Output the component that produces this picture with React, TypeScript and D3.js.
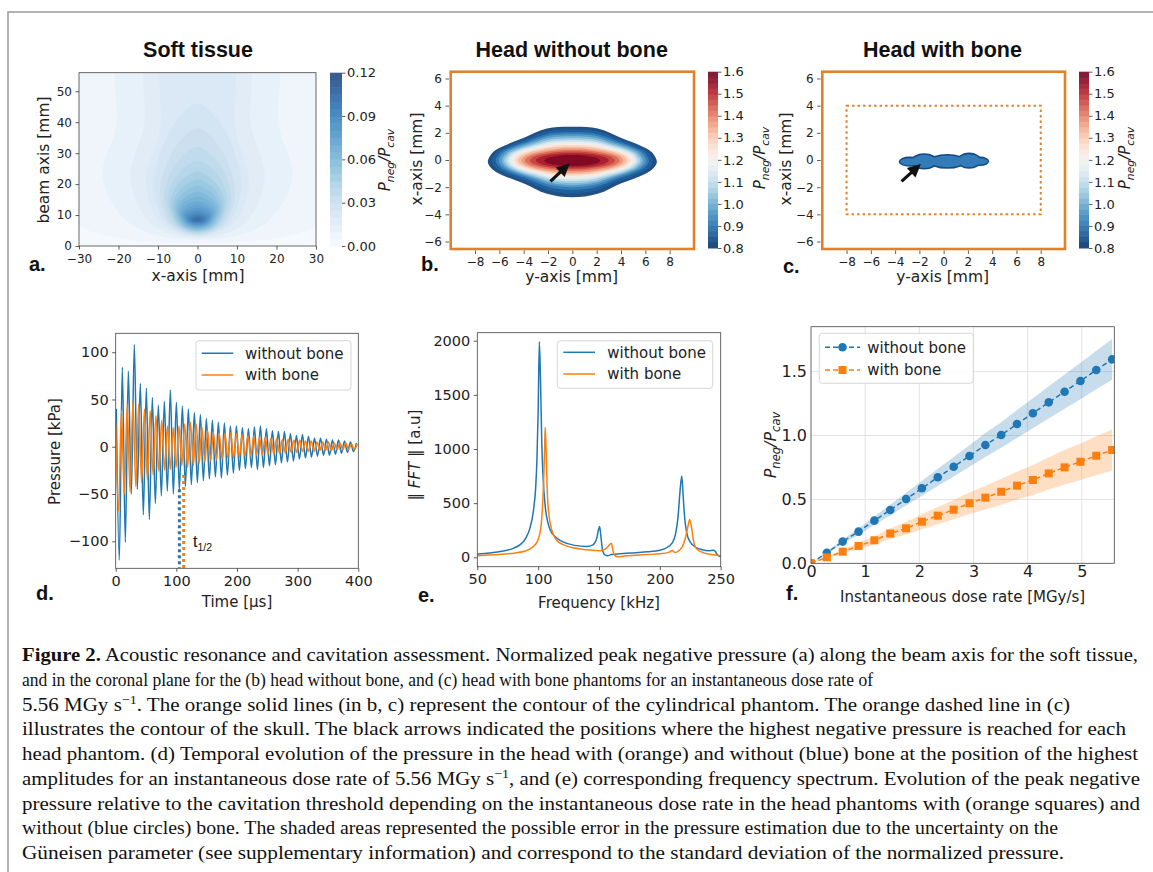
import React, { useEffect, useRef } from 'react'
import * as d3 from 'd3'

const sans = "'DejaVu Sans', sans-serif"
const arial = "'Liberation Sans', Arial, sans-serif"
const serif = "'Liberation Serif', 'Times New Roman', serif"
const ink = '#222'
const blue = '#1f77b4'
const orange = '#ff7f0e'
const frameOrange = '#e2812a'

// (a) soft tissue, nested contour shapes (mm)
const aLevels = [0.005, 0.01, 0.015, 0.02, 0.025, 0.03, 0.035, 0.04, 0.045, 0.05, 0.055, 0.06, 0.065, 0.07, 0.075, 0.08, 0.085, 0.09, 0.095, 0.1, 0.105]
const aBottom = [1, 2, 2.5, 3, 3.3, 3.6, 3.9, 4.2, 4.5, 4.8, 5.1, 5.4, 5.7, 6.0, 6.3, 6.6, 6.9, 7.2, 7.5, 7.8, 8.0]
const aTop = [70, 70, 70, 70, 46, 38, 32, 27.5, 24, 21.5, 19.5, 17.5, 16, 14.5, 13.3, 12.3, 11.4, 10.7, 10.1, 9.6, 9.2]
const aWidth = [40, 24, 17, 13, 11, 9.5, 8.5, 7.6, 6.9, 6.3, 5.7, 5.2, 4.7, 4.2, 3.8, 3.4, 3.0, 2.5, 2.0, 1.5, 1.0]
const aWidthAt = [18, 22, 22, 20, 19, 17, 16, 15, 14, 13, 12.5, 12, 11.5, 11, 10.5, 10, 9.6, 9.2, 8.9, 8.6, 8.5]
const aTopWidth = [40, 19, 12, 8]
const aCbarTicks = [0, 0.03, 0.06, 0.09, 0.12]

// (b) head without bone, nested contour shapes (mm)
const bLevels = [0.8, 0.85, 0.9, 0.95, 1.0, 1.05, 1.1, 1.15, 1.2, 1.25, 1.3, 1.35, 1.4, 1.45, 1.5, 1.55]
const bHalfWidth = [6.95, 6.6, 6.3, 6.05, 5.8, 5.6, 5.4, 5.2, 5.0, 4.75, 4.5, 4.2, 3.9, 3.5, 3.0, 2.3]
const bTop = [2.45, 2.25, 2.05, 1.9, 1.75, 1.6, 1.47, 1.35, 1.22, 1.1, 0.98, 0.86, 0.74, 0.62, 0.5, 0.36]
const bBottom = [-2.75, -2.45, -2.2, -2.0, -1.85, -1.7, -1.55, -1.42, -1.3, -1.17, -1.05, -0.93, -0.8, -0.68, -0.56, -0.44]
const bArrow = [[-1.8, -1.57], [-0.22, -0.25]]
const rdTicks = [0.8, 0.9, 1.0, 1.1, 1.2, 1.3, 1.4, 1.5, 1.6]

// (c) head with bone, lobes of the small region (mm)
const cLobeX = [-2.8, -1.6, 0.3, 2.1, 3.0]
const cLobeHalfW = [0.9, 1.1, 1.5, 1.0, 0.75]
const cLobeTop = [0.25, 0.5, 0.45, 0.55, 0.25]
const cLobeBottom = [-0.5, -0.7, -0.65, -0.65, -0.45]
const cLobeValue = 0.9
const cSkull = [[-8, -4], [8, 4]]
const cArrow = [[-3.47, -1.57], [-1.88, -0.3]]

// (d) pressure, peak values per oscillation cycle (kPa)
const dBluePeriod = 9.9
const dBlueMax = [40, 84, 80, 108, 67, 62, 52, 44, 48, 60, 47, 43, 40, 36, 34, 30, 28, 26, 25, 22, 22, 20, 19, 21, 22, 19, 17, 16, 16, 14, 12, 13, 11, 9, 9, 8, 7, 7, 6, 5, 4]
const dBlueMin = [-120, -101, -50, -45, -72, -77, -60, -52, -47, -50, -46, -42, -40, -38, -36, -34, -32, -33, -30, -28, -25, -23, -22, -24, -22, -20, -19, -17, -16, -15, -13, -12, -11, -10, -9, -9, -8, -7, -6, -5]
const dOrangePeriod = 9.48
const dOrangeMax = [25, 38, 45, 48, 45, 40, 38, 33, 28, 22, 20, 22, 24, 26, 24, 21, 17, 15, 14, 14, 15, 14, 13, 12, 11, 10, 10, 9, 9, 8, 8, 7, 7, 6, 6, 5, 5, 5, 4, 4, 4, 3, 3]
const dOrangeMin = [-68, -50, -48, -42, -38, -35, -30, -26, -25, -24, -22, -20, -22, -20, -18, -16, -15, -14, -13, -12, -12, -11, -10, -10, -9, -9, -8, -8, -7, -7, -6, -6, -5, -5, -5, -4, -4, -4, -3, -3, -3, -3]
const dHalfTime = [105, 112]
const dHalfStart = [-45, -30]

// (e) spectrum
const eBlueFreq = [50, 60, 70, 80, 85, 90, 93, 96, 98, 99, 100, 101, 102, 103, 104, 106, 108, 110, 115, 120, 130, 140, 145, 148, 149.5, 150.5, 151.5, 153, 155, 157, 160, 170, 180, 190, 200, 205, 210, 213, 215, 216.5, 218, 219, 220, 222, 225, 230, 235, 240, 244, 245.5, 247, 250]
const eBlueAmp = [30, 40, 55, 85, 115, 180, 260, 420, 650, 900, 1350, 1990, 1600, 1050, 750, 450, 320, 250, 180, 145, 110, 100, 115, 170, 250, 285, 200, 60, 20, 15, 25, 35, 42, 50, 65, 85, 130, 220, 380, 600, 750, 600, 420, 230, 140, 90, 70, 60, 65, 55, 25, 5]
const eOrangeFreq = [50, 60, 70, 80, 90, 95, 99, 101, 102.5, 103.5, 104.5, 105.3, 105.8, 106.5, 107.5, 109, 111, 115, 120, 130, 140, 150, 155, 157, 159, 160, 161, 162, 164, 166, 170, 180, 190, 200, 207, 209, 210, 211.5, 213, 216, 219, 221, 223, 224.5, 226, 227.5, 230, 235, 240, 245, 250]
const eOrangeAmp = [15, 20, 28, 38, 60, 90, 140, 200, 300, 450, 700, 1000, 1200, 1000, 600, 380, 260, 160, 120, 85, 70, 60, 75, 95, 120, 130, 90, 40, 10, 5, 10, 18, 25, 32, 45, 55, 65, 50, 45, 65, 110, 180, 280, 350, 280, 160, 80, 45, 30, 20, 15]

// (f) peak negative pressure vs dose rate
const fDose = [0, 0.293, 0.585, 0.878, 1.17, 1.463, 1.756, 2.048, 2.341, 2.634, 2.926, 3.219, 3.512, 3.804, 4.097, 4.39, 4.682, 4.975, 5.267, 5.56]
const fBlue = [0, 0.083, 0.17, 0.248, 0.334, 0.417, 0.503, 0.587, 0.673, 0.756, 0.84, 0.926, 1.004, 1.09, 1.174, 1.26, 1.343, 1.427, 1.513, 1.596]
const fBlueLow = [0, 0.075, 0.153, 0.223, 0.3, 0.375, 0.453, 0.528, 0.606, 0.68, 0.756, 0.833, 0.904, 0.981, 1.057, 1.134, 1.209, 1.284, 1.362, 1.436]
const fBlueHigh = [0, 0.091, 0.187, 0.273, 0.367, 0.459, 0.553, 0.646, 0.74, 0.832, 0.924, 1.019, 1.104, 1.199, 1.291, 1.386, 1.477, 1.57, 1.664, 1.756]
const fOrange = [0, 0.047, 0.091, 0.136, 0.18, 0.233, 0.274, 0.326, 0.373, 0.42, 0.47, 0.514, 0.56, 0.608, 0.652, 0.704, 0.751, 0.795, 0.842, 0.887]
const fOrangeLow = [0, 0.039, 0.075, 0.112, 0.148, 0.191, 0.225, 0.267, 0.306, 0.344, 0.385, 0.421, 0.459, 0.499, 0.535, 0.577, 0.616, 0.652, 0.69, 0.727]
const fOrangeHigh = [0, 0.055, 0.107, 0.16, 0.212, 0.275, 0.323, 0.385, 0.44, 0.496, 0.555, 0.607, 0.661, 0.717, 0.769, 0.831, 0.886, 0.938, 0.994, 1.047]

const legendNames = ['without bone', 'with bone']

const captionLines: [string, string][][] = [
  [['Figure 2.', 'b'], [' Acoustic resonance and cavitation assessment. Normalized peak negative pressure (a) along the beam axis for the soft tissue,', '']],
  [['and in the coronal plane for the (b) head without bone, and (c) head with bone phantoms for an instantaneous dose rate of', '']],
  [['5.56 MGy s', ''], ['\u22121', 'sup'], ['. The orange solid lines (in b, c) represent the contour of the cylindrical phantom. The orange dashed line in (c)', '']],
  [['illustrates the contour of the skull. The black arrows indicated the positions where the highest negative pressure is reached for each', '']],
  [['head phantom. (d) Temporal evolution of the pressure in the head with (orange) and without (blue) bone at the position of the highest', '']],
  [['amplitudes for an instantaneous dose rate of 5.56 MGy s', ''], ['\u22121', 'sup'], [', and (e) corresponding frequency spectrum. Evolution of the peak negative', '']],
  [['pressure relative to the cavitation threshold depending on the instantaneous dose rate in the head phantoms with (orange squares) and', '']],
  [['without (blue circles) bone. The shaded areas represented the possible error in the pressure estimation due to the uncertainty on the', '']],
  [['G\u00fcneisen parameter (see supplementary information) and correspond to the standard deviation of the normalized pressure.', '']],
]
const captionRight = [1138, 873, 1070, 1126, 1138, 1140, 1140, 1058, 1064]

const aColor = (v: number) => d3.interpolateBlues(Math.min(1, v / 0.12))
const rdColor = (v: number) => d3.interpolateRdBu(1 - Math.max(0, Math.min(1, (v - 0.8) / 0.8)))

function styleAxis(s: any, size: number) {
  s.select('.domain').remove()
  s.selectAll('text').attr('font-family', sans).attr('font-size', size).attr('fill', ink)
  s.selectAll('line').attr('stroke', '#333').attr('stroke-width', 0.8)
}

function axisB(g: any, scale: any, y: number, ticks: number[], size: number, fmt?: any, tick = 3.5, pad = 3.5) {
  const ax = d3.axisBottom(scale).tickValues(ticks).tickSizeOuter(0).tickSize(tick).tickPadding(pad)
  if (fmt) ax.tickFormat(fmt)
  styleAxis(g.append('g').attr('transform', `translate(0,${y})`).call(ax), size)
}
function axisL(g: any, scale: any, x: number, ticks: number[], size: number, fmt?: any, tick = 3.5, pad = 3.5) {
  const ax = d3.axisLeft(scale).tickValues(ticks).tickSizeOuter(0).tickSize(tick).tickPadding(pad)
  if (fmt) ax.tickFormat(fmt)
  styleAxis(g.append('g').attr('transform', `translate(${x},0)`).call(ax), size)
}
function axisR(g: any, scale: any, x: number, ticks: number[], size: number, fmt?: any) {
  const ax = d3.axisRight(scale).tickValues(ticks).tickSizeOuter(0).tickSize(3.5).tickPadding(1.5)
  if (fmt) ax.tickFormat(fmt)
  styleAxis(g.append('g').attr('transform', `translate(${x},0)`).call(ax), size)
}

function label(g: any, x: number, y: number, txt: string, size: number, rotate = false, family = sans) {
  const t = g.append('text').attr('x', x).attr('y', y).attr('text-anchor', 'middle')
    .attr('font-family', family).attr('font-size', size).attr('fill', ink).text(txt)
  if (rotate) t.attr('transform', `rotate(-90,${x},${y})`)
  return t
}

function pLabel(g: any, x: number, y: number, size: number) {
  const t = g.append('text').attr('text-anchor', 'middle').attr('font-family', sans)
    .attr('font-size', size).attr('font-style', 'italic').attr('fill', ink)
    .attr('transform', `translate(${x},${y}) rotate(-90)`)
  const sub = size * 0.72
  t.append('tspan').text('P')
  t.append('tspan').attr('font-size', sub).attr('dy', size * 0.25).text('neg')
  t.append('tspan').attr('dy', -size * 0.25).text('/P')
  t.append('tspan').attr('font-size', sub).attr('dy', size * 0.25).text('cav')
}

function panelLetter(g: any, x: number, y: number, txt: string) {
  g.append('text').attr('x', x).attr('y', y).attr('font-family', arial).attr('font-weight', 'bold')
    .attr('font-size', 20).attr('fill', '#111').text(txt)
}

function title(g: any, x: number, txt: string) {
  g.append('text').attr('x', x).attr('y', 56.5).attr('text-anchor', 'middle').attr('font-family', arial)
    .attr('font-weight', 'bold').attr('font-size', 21.5).attr('fill', '#111').text(txt)
}

function arrow(g: any, x: any, y: any, pts: number[][]) {
  const x1 = x(pts[0][0]), y1 = y(pts[0][1]), x2 = x(pts[1][0]), y2 = y(pts[1][1])
  const ang = Math.atan2(y2 - y1, x2 - x1)
  const hl = 13, hw = 6.5
  const bx = x2 - hl * Math.cos(ang), by = y2 - hl * Math.sin(ang)
  g.append('line').attr('x1', x1).attr('y1', y1).attr('x2', bx + 2 * Math.cos(ang)).attr('y2', by + 2 * Math.sin(ang))
    .attr('stroke', '#111').attr('stroke-width', 3.2)
  const px = -Math.sin(ang) * hw, py = Math.cos(ang) * hw
  g.append('path').attr('d', `M${x2},${y2}L${bx + px},${by + py}L${bx - px},${by - py}Z`).attr('fill', '#111')
}

function rdColorbar(g: any, x0: number, x1: number, y0: number, y1: number) {
  const s = d3.scaleLinear().domain([0.8, 1.6]).range([y1, y0])
  const edges = d3.range(0, 33).map(i => 0.8 + i * 0.025)
  g.selectAll(null).data(edges.slice(0, -1)).join('rect')
    .attr('x', x0).attr('width', x1 - x0)
    .attr('y', (d: number) => s(d + 0.025)).attr('height', (d: number) => s(d) - s(d + 0.025) + 0.5)
    .attr('fill', (d: number) => rdColor(d + 0.0125)).attr('opacity', 0.9)
  axisR(g, s, x1, rdTicks, 13, d3.format('.1f'))
}

function timeSeries(maxs: number[], mins: number[], period: number, t0: number) {
  const pts: [number, number][] = []
  maxs.forEach((m, k) => {
    pts.push([t0 + k * period, m])
    if (mins[k] !== undefined) pts.push([t0 + k * period + period / 2, mins[k]])
  })
  return pts.filter(p => p[0] <= 400)
}

function legendBox(g: any, x0: number, y0: number, w: number, h: number) {
  g.append('rect').attr('x', x0).attr('y', y0).attr('width', w).attr('height', h).attr('rx', 3)
    .attr('fill', 'white').attr('fill-opacity', 0.85).attr('stroke', '#d6d6d6').attr('stroke-width', 1)
}

const App = () => {
  const ref = useRef<SVGSVGElement>(null)

  useEffect(() => {
    const svg = d3.select(ref.current)
    svg.selectAll('*').remove()
    const defs = svg.append('defs')
    const clip = (id: string, x0: number, y0: number, x1: number, y1: number) => {
      defs.append('clipPath').attr('id', id).append('rect').attr('x', x0).attr('y', y0).attr('width', x1 - x0).attr('height', y1 - y0)
      return `url(#${id})`
    }

    // page frame
    svg.append('path').attr('d', 'M8,872V12H1153').attr('fill', 'none').attr('stroke', '#999').attr('stroke-width', 1.5)

    // ---------- (a) ----------
    const ga = svg.append('g')
    const aX = d3.scaleLinear().domain([-30, 30]).range([79, 316])
    const aY = d3.scaleLinear().domain([0, 56]).range([246, 72.7])
    const aLine = d3.line<number[]>().x(d => aX(d[0])).y(d => aY(d[1])).curve(d3.curveCatmullRomClosed)
    const aPlot = ga.append('g').attr('clip-path', clip('clipA', 79, 72.7, 316, 246)).attr('opacity', 0.8)
    aPlot.append('rect').attr('x', 79).attr('y', 72.7).attr('width', 237).attr('height', 173.3).attr('fill', aColor(0.0025))
    aLevels.forEach((lv, i) => {
      const yb = aBottom[i], yw = aWidthAt[i], w = aWidth[i], yt = aTop[i]
      let right: number[][]
      if (yt > 56) {
        const tw = aTopWidth[i]
        right = [[0.7 * w, yb + 0.25 * (yw - yb)], [w, yw], [tw + 0.3 * (w - tw), (yw + 56) / 2], [tw, 62]]
      } else {
        right = [[0.7 * w, yb + 0.25 * (yw - yb)], [w, yw], [0.75 * w, yw + 0.55 * (yt - yw)], [0.35 * w, yw + 0.88 * (yt - yw)], [0, yt]]
      }
      const left = right.filter(p => p[0] !== 0).reverse().map(p => [-p[0], p[1]])
      const pts = [[0, yb], ...right, ...left]
      const next = i + 1 < aLevels.length ? aLevels[i + 1] : lv + 0.005
      aPlot.append('path').attr('d', aLine(pts)).attr('fill', aColor((lv + next) / 2))
    })
    ga.append('rect').attr('x', 79).attr('y', 72.7).attr('width', 237).attr('height', 173.3).attr('fill', 'none').attr('stroke', '#444').attr('stroke-width', 0.8)
    axisL(ga, aY, 79, [0, 10, 20, 30, 40, 50], 12)
    axisB(ga, aX, 246, [-30, -20, -10, 0, 10, 20, 30], 12, undefined, 3.5, 5)
    // colorbar
    const aC = d3.scaleLinear().domain([0, 0.12]).range([246, 72.7])
    const aEdges = d3.range(0, 24).map(i => i * 0.005)
    ga.append('g').attr('opacity', 0.8).selectAll('rect').data(aEdges).join('rect')
      .attr('x', 330).attr('width', 12).attr('y', d => aC(d + 0.005)).attr('height', d => aC(d) - aC(d + 0.005) + 0.5)
      .attr('fill', d => aColor(d + 0.0025))
    axisR(ga, aC, 342, aCbarTicks, 13, d3.format('.2f'))
    pLabel(ga, 390, 160, 15)
    title(ga, 198, 'Soft tissue')
    label(ga, 198, 281, 'x-axis [mm]', 15.5)
    label(ga, 48.5, 160, 'beam axis [mm]', 15.5, true)
    panelLetter(ga, 29, 271, 'a.')

    // ---------- (b) ----------
    const gb = svg.append('g')
    const bX = d3.scaleLinear().domain([-10, 10]).range([450.7, 694])
    const bY = d3.scaleLinear().domain([-6.55, 6.5]).range([249, 71.7])
    const bLine = d3.line<number[]>().x(d => bX(d[0])).y(d => bY(d[1])).curve(d3.curveCatmullRomClosed)
    const profX = [0.3, 0.58, 0.8, 0.94]
    const lensTop = [0.95, 0.68, 0.47, 0.28]
    const lensBot = [0.9, 0.6, 0.4, 0.22]
    const ellip = [0.954, 0.815, 0.6, 0.34]
    const bPlot = gb.append('g').attr('clip-path', clip('clipB', 450.7, 71.7, 694, 249))
    bPlot.append('rect').attr('x', 450.7).attr('y', 71.7).attr('width', 243.3).attr('height', 177.3).attr('fill', '#fff')
    bLevels.forEach((lv, i) => {
      const f = i / (bLevels.length - 1)
      const hw = bHalfWidth[i], top = bTop[i], bot = bBottom[i], mid = (top + bot) / 2
      const up = profX.map((px, j) => [hw * px, mid + (top - mid) * (lensTop[j] * (1 - f) + ellip[j] * f)])
      const dn = profX.map((px, j) => [hw * px, mid - (mid - bot) * (lensBot[j] * (1 - f) + ellip[j] * f)])
      const pts = [[0, top], ...up, [hw, mid], ...dn.slice().reverse(), [0, bot],
        ...dn.map(p => [-p[0], p[1]]), [-hw, mid], ...up.slice().reverse().map(p => [-p[0], p[1]])]
      bPlot.append('path').attr('d', bLine(pts)).attr('fill', rdColor(lv + 0.025)).attr('opacity', 0.92)
    })
    arrow(bPlot, bX, bY, bArrow)
    gb.append('rect').attr('x', 450.7).attr('y', 71.7).attr('width', 243.3).attr('height', 177.3).attr('fill', 'none').attr('stroke', frameOrange).attr('stroke-width', 2.6)
    axisL(gb, bY, 449, [-6, -4, -2, 0, 2, 4, 6], 12)
    axisB(gb, bX, 250.5, [-8, -6, -4, -2, 0, 2, 4, 6, 8], 12)
    rdColorbar(gb, 708, 718, 71.7, 248)
    pLabel(gb, 765, 158, 15)
    title(gb, 571.7, 'Head without bone')
    label(gb, 571.7, 282, 'y-axis [mm]', 15.5)
    label(gb, 422, 159, 'x-axis [mm]', 15.5, true)
    panelLetter(gb, 421, 271, 'b.')

    // ---------- (c) ----------
    const gc = svg.append('g')
    const cX = d3.scaleLinear().domain([-10, 10]).range([822.3, 1065])
    const cY = d3.scaleLinear().domain([-6.55, 6.5]).range([249, 71.7])
    const cPlot = gc.append('g').attr('clip-path', clip('clipC', 822.3, 71.7, 1065, 249))
    cPlot.append('rect').attr('x', 822.3).attr('y', 71.7).attr('width', 242.7).attr('height', 177.3).attr('fill', '#fff')
    const lobes = (shrink: number, v: number) => cLobeX.forEach((cx, i) => {
      const cy = (cLobeTop[i] + cLobeBottom[i]) / 2
      const ry = (cLobeTop[i] - cLobeBottom[i]) / 2 - shrink
      const rx = cLobeHalfW[i] - shrink
      cPlot.append('ellipse').attr('cx', cX(cx)).attr('cy', cY(cy))
        .attr('rx', cX(rx) - cX(0)).attr('ry', cY(0) - cY(ry)).attr('fill', rdColor(v))
    })
    lobes(0, cLobeValue - 0.06)
    lobes(0.12, cLobeValue + 0.02)
    cPlot.append('rect').attr('x', cX(cSkull[0][0])).attr('y', cY(cSkull[1][1]))
      .attr('width', cX(cSkull[1][0]) - cX(cSkull[0][0])).attr('height', cY(cSkull[0][1]) - cY(cSkull[1][1]))
      .attr('fill', 'none').attr('stroke', frameOrange).attr('stroke-width', 2).attr('stroke-dasharray', '2.5,3')
    arrow(cPlot, cX, cY, cArrow)
    gc.append('rect').attr('x', 822.3).attr('y', 71.7).attr('width', 242.7).attr('height', 177.3).attr('fill', 'none').attr('stroke', frameOrange).attr('stroke-width', 2.6)
    axisL(gc, cY, 820.6, [-6, -4, -2, 0, 2, 4, 6], 12)
    axisB(gc, cX, 250.5, [-8, -6, -4, -2, 0, 2, 4, 6, 8], 12)
    rdColorbar(gc, 1079, 1089, 71.7, 248)
    pLabel(gc, 1130, 158, 15)
    title(gc, 942.5, 'Head with bone')
    label(gc, 942.7, 282, 'y-axis [mm]', 15.5)
    label(gc, 791, 159, 'x-axis [mm]', 15.5, true)
    panelLetter(gc, 783, 273, 'c.')

    // ---------- (d) ----------
    const gd = svg.append('g')
    const dX = d3.scaleLinear().domain([0, 400]).range([115.7, 358.3])
    const dY = d3.scaleLinear().domain([-128.6, 120]).range([568.3, 333.3])
    const dLine = d3.line<[number, number]>().x(d => dX(d[0])).y(d => dY(d[1])).curve(d3.curveMonotoneX)
    const dPlot = gd.append('g').attr('clip-path', clip('clipD', 115.7, 333.3, 358.3, 568.3))
    dPlot.append('path').attr('d', dLine(timeSeries(dBlueMax, dBlueMin, dBluePeriod, 1)))
      .attr('fill', 'none').attr('stroke', blue).attr('stroke-width', 1.5)
    dPlot.append('path').attr('d', dLine(timeSeries(dOrangeMax, dOrangeMin, dOrangePeriod, 0)))
      .attr('fill', 'none').attr('stroke', orange).attr('stroke-width', 1.5)
    dHalfTime.forEach((t, i) => {
      dPlot.append('line').attr('x1', dX(t)).attr('x2', dX(t)).attr('y1', dY(dHalfStart[i])).attr('y2', dY(-128.6))
        .attr('stroke', i === 0 ? blue : orange).attr('stroke-width', 3).attr('stroke-dasharray', '3,3')
    })
    const th = gd.append('text').attr('x', 193).attr('y', 547).attr('font-family', arial).attr('font-size', 16).attr('fill', '#111')
    th.append('tspan').text('t')
    th.append('tspan').attr('font-size', 10.5).attr('dy', 4).text('1/2')
    gd.append('rect').attr('x', 115.7).attr('y', 333.3).attr('width', 242.6).attr('height', 235).attr('fill', 'none').attr('stroke', '#444').attr('stroke-width', 0.8)
    axisL(gd, dY, 115.7, [-100, -50, 0, 50, 100], 14.5)
    axisB(gd, dX, 568.3, [0, 100, 200, 300, 400], 14.5)
    legendBox(gd, 196, 340.7, 155, 49.3)
    legendNames.forEach((n, i) => {
      const yy = 353.3 + i * 21.7
      gd.append('line').attr('x1', 201.7).attr('x2', 233.3).attr('y1', yy).attr('y2', yy).attr('stroke', i ? orange : blue).attr('stroke-width', 1.5)
      gd.append('text').attr('x', 245).attr('y', yy + 5.3).attr('font-family', sans).attr('font-size', 15).attr('fill', ink).text(n)
    })
    label(gd, 59.5, 451.5, 'Pressure [kPa]', 15, true)
    label(gd, 237, 607, 'Time [\u03bcs]', 15)
    panelLetter(gd, 36, 600, 'd.')

    // ---------- (e) ----------
    const ge = svg.append('g')
    const eX = d3.scaleLinear().domain([50, 250]).range([477.3, 720.7])
    const eY = d3.scaleLinear().domain([-87, 2074]).range([566.7, 332.7])
    const ePlot = ge.append('g').attr('clip-path', clip('clipE', 477.3, 332.7, 720.7, 566.7))
    ePlot.append('path').attr('d', d3.line<number>().x((d, i) => eX(eBlueFreq[i])).y(d => eY(d)).curve(d3.curveMonotoneX)(eBlueAmp))
      .attr('fill', 'none').attr('stroke', blue).attr('stroke-width', 1.5)
    ePlot.append('path').attr('d', d3.line<number>().x((d, i) => eX(eOrangeFreq[i])).y(d => eY(d)).curve(d3.curveMonotoneX)(eOrangeAmp))
      .attr('fill', 'none').attr('stroke', orange).attr('stroke-width', 1.5)
    ge.append('rect').attr('x', 477.3).attr('y', 332.7).attr('width', 243.4).attr('height', 234).attr('fill', 'none').attr('stroke', '#444').attr('stroke-width', 0.8)
    axisL(ge, eY, 477.3, [0, 500, 1000, 1500, 2000], 14.5, d3.format('d'))
    axisB(ge, eX, 566.7, [50, 100, 150, 200, 250], 14.5, d3.format('d'))
    legendBox(ge, 557.3, 340.7, 155.4, 47.6)
    legendNames.forEach((n, i) => {
      const yy = 352.3 + i * 21.7
      ge.append('line').attr('x1', 563.3).attr('x2', 595).attr('y1', yy).attr('y2', yy).attr('stroke', i ? orange : blue).attr('stroke-width', 1.5)
      ge.append('text').attr('x', 607.3).attr('y', yy + 5.3).attr('font-family', sans).attr('font-size', 15).attr('fill', ink).text(n)
    })
    const ey = ge.append('text').attr('text-anchor', 'middle').attr('font-family', sans).attr('font-size', 15).attr('fill', ink)
      .attr('transform', 'translate(419.5,455) rotate(-90)')
    ey.append('tspan').text('\u2016 ')
    ey.append('tspan').attr('font-style', 'italic').text('FFT')
    ey.append('tspan').text(' \u2016 [a.u]')
    label(ge, 599, 608, 'Frequency [kHz]', 15)
    panelLetter(ge, 418, 602, 'e.')

    // ---------- (f) ----------
    const gf = svg.append('g')
    const fX = d3.scaleLinear().domain([0, 5.6]).range([811, 1114.3])
    const fY = d3.scaleLinear().domain([0, 1.852]).range([563.3, 326.7])
    const fPlot = gf.append('g').attr('clip-path', clip('clipF', 811, 326.7, 1114.3, 563.3))
    ;[1, 2, 3, 4, 5].forEach(v => fPlot.append('line').attr('x1', fX(v)).attr('x2', fX(v)).attr('y1', 326.7).attr('y2', 563.3).attr('stroke', '#e3e3e3').attr('stroke-width', 1))
    ;[0.5, 1.0, 1.5].forEach(v => fPlot.append('line').attr('y1', fY(v)).attr('y2', fY(v)).attr('x1', 811).attr('x2', 1114.3).attr('stroke', '#e3e3e3').attr('stroke-width', 1))
    const band = d3.area<number>().x((d, i) => fX(fDose[i]))
    fPlot.append('path').attr('d', band.y0((d, i) => fY(fBlueLow[i])).y1(d => fY(d))(fBlueHigh)).attr('fill', blue).attr('fill-opacity', 0.25)
    fPlot.append('path').attr('d', band.y0((d, i) => fY(fOrangeLow[i])).y1(d => fY(d))(fOrangeHigh)).attr('fill', orange).attr('fill-opacity', 0.25)
    const fLine = d3.line<number>().x((d, i) => fX(fDose[i])).y(d => fY(d))
    fPlot.append('path').attr('d', fLine(fBlue)).attr('fill', 'none').attr('stroke', blue).attr('stroke-width', 1.5).attr('stroke-dasharray', '5,3')
    fPlot.append('path').attr('d', fLine(fOrange)).attr('fill', 'none').attr('stroke', orange).attr('stroke-width', 1.5).attr('stroke-dasharray', '5,3')
    fPlot.selectAll('circle').data(fBlue).join('circle').attr('cx', (d, i) => fX(fDose[i])).attr('cy', d => fY(d)).attr('r', 4.3).attr('fill', blue)
    fPlot.selectAll('rect.sq').data(fOrange).join('rect').attr('class', 'sq')
      .attr('x', (d, i) => fX(fDose[i]) - 4).attr('y', d => fY(d) - 4).attr('width', 8).attr('height', 8).attr('fill', orange)
    gf.append('rect').attr('x', 811).attr('y', 326.7).attr('width', 303.3).attr('height', 236.6).attr('fill', 'none').attr('stroke', '#444').attr('stroke-width', 0.8)
    axisL(gf, fY, 811, [0, 0.5, 1.0, 1.5], 16, d3.format('.1f'), 0, 4)
    axisB(gf, fX, 563.3, [0, 1, 2, 3, 4, 5], 16, d3.format('d'), 0, 2)
    legendBox(gf, 819.3, 333.3, 154, 50)
    legendNames.forEach((n, i) => {
      const yy = 347.3 + i * 22.7
      gf.append('line').attr('x1', 825).attr('x2', 860).attr('y1', yy).attr('y2', yy).attr('stroke', i ? orange : blue).attr('stroke-width', 1.5).attr('stroke-dasharray', '5,3')
      if (i === 0) gf.append('circle').attr('cx', 842.5).attr('cy', yy).attr('r', 4.3).attr('fill', blue)
      else gf.append('rect').attr('x', 838.5).attr('y', yy - 4).attr('width', 8).attr('height', 8).attr('fill', orange)
      gf.append('text').attr('x', 867.3).attr('y', yy + 5.3).attr('font-family', sans).attr('font-size', 15).attr('fill', ink).text(n)
    })
    pLabel(gf, 776, 445, 16)
    label(gf, 962.6, 601.7, 'Instantaneous dose rate [MGy/s]', 15)
    panelLetter(gf, 786, 600, 'f.')

    // ---------- caption ----------
    const gcap = svg.append('g')
    captionLines.forEach((segs, i) => {
      const t = gcap.append('text').attr('x', 22).attr('y', 661 + i * 24.75).attr('font-family', serif)
        .attr('font-size', 19.5).attr('fill', '#111').attr('textLength', captionRight[i] - 22).attr('lengthAdjust', 'spacingAndGlyphs')
      let prevSup = false
      segs.forEach(([s, st]) => {
        const sp = t.append('tspan').text(s)
        if (st === 'b') sp.attr('font-weight', 'bold')
        if (st === 'sup') sp.attr('font-size', 13).attr('dy', -7)
        if (prevSup) sp.attr('dy', 7)
        prevSup = st === 'sup'
      })
    })
  }, [])

  return (
    <svg ref={ref} width={1153} height={872} style={{ position: 'absolute', left: 0, top: 0, background: '#fff' }} />
  )
}

export default App
